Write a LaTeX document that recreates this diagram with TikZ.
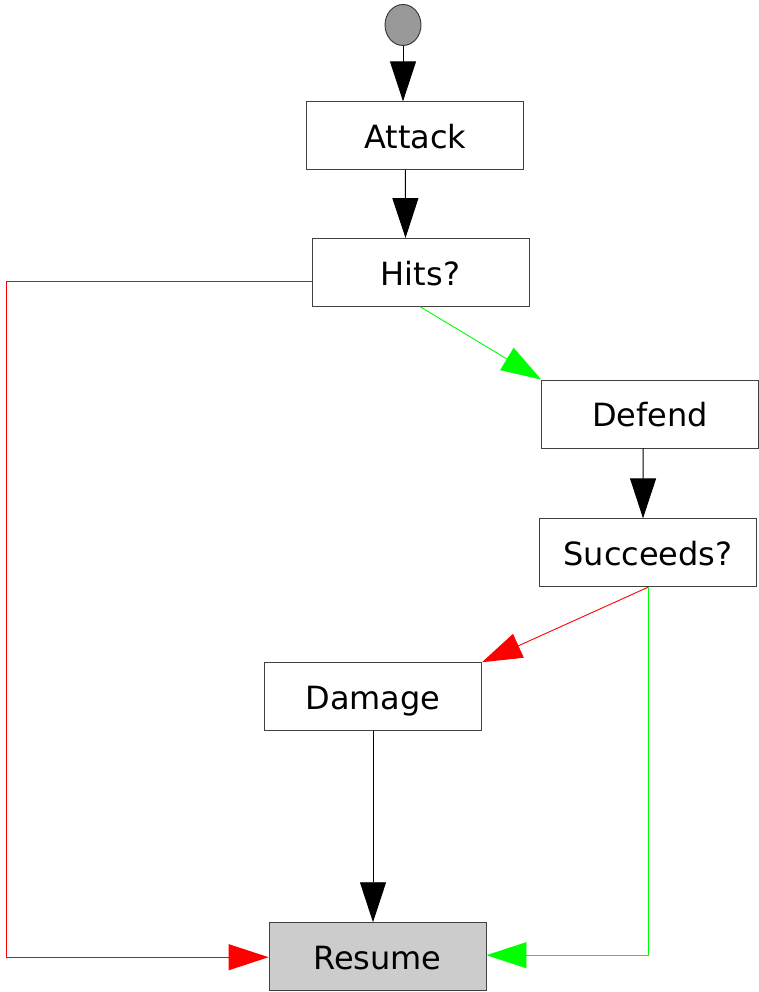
\documentclass[tikz,border=0pt]{standalone}
\usepackage{fontspec}
\setmainfont{DejaVu Sans}
\usetikzlibrary{arrows.meta,shapes.geometric}

\begin{document}
\begin{tikzpicture}[x=1pt, y=-1pt, >={Triangle[length=40pt, width=26pt]},
  font=\fontsize{32}{38}\selectfont,
  stepbox/.style={draw=black!75, line width=0.9pt, fill=white, minimum width=217pt, minimum height=68pt, inner sep=0pt, text height=25pt, text depth=0pt},
  flow/.style={->, line width=0.9pt}]

  \colorlet{yesLine}{green}   % branch taken on yes
  \colorlet{noLine}{red}      % branch taken on no

\useasboundingbox (0,0) rectangle (758,992);

% start dot
\node[ellipse, draw=black!80, line width=0.9pt, fill=black!40, minimum width=36pt, minimum height=41pt, inner sep=0pt] (start) at (403,25) {};

% the steps
\node[stepbox] (attack)   at (415.3,135.8) {Attack};
\node[stepbox] (hits)     at (420.5,272.5) {Hits?};
\node[stepbox] (defend)   at (650.1,414)   {Defend};
\node[stepbox] (succeeds) at (648,552.8)   {Succeeds?};
\node[stepbox] (damage)   at (373,696.7)   {Damage};
\node[stepbox, fill=black!20] (resume) at (377.5,956.7) {Resume};

% left rail of the miss branch
\coordinate (rail) at (6.3,281);

% straight flow
\draw[flow] (start) -- (start |- attack.north);
\draw[flow] ([xshift=-10pt]attack.south) -- ([xshift=-15pt]hits.north);
\draw[flow] ([xshift=-7pt]defend.south) -- ([xshift=-5pt]succeeds.north);
\draw[flow] (damage.south) -- (damage.south |- resume.north);

% branches
\draw[flow, yesLine] (hits.south) -- (defend.north west);
\draw[flow, noLine] (hits.west |- rail) -- (rail) |- ([yshift=-0.5pt]resume.west);
\draw[flow, noLine] (succeeds.south) -- (damage.north east);
\draw[flow, yesLine] (succeeds.south) |- ([yshift=1.5pt]resume.east);

\end{tikzpicture}
\end{document}
